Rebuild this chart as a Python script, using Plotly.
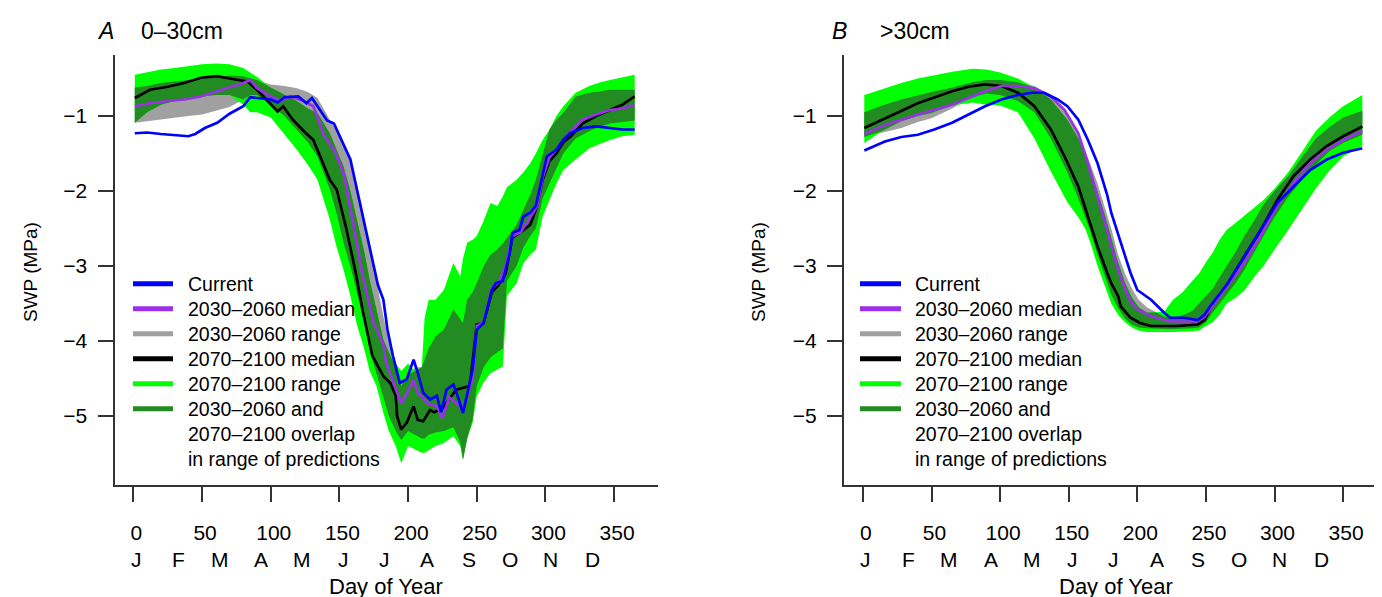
import numpy as np
import plotly.graph_objects as go

# ---------------- data ----------------
months = ["J", "F", "M", "A", "M", "J", "J", "A", "S", "O", "N", "D"]
month_days = [2, 33, 63, 93, 123, 153, 183, 214, 244, 274, 304, 334]
x_ticks = [0, 50, 100, 150, 200, 250, 300, 350]
y_ticks = [-1, -2, -3, -4, -5]
y_ticktext = ["\u22121", "\u22122", "\u22123", "\u22124", "\u22125"]

legend_labels = ["Current", "2030\u20132060 median", "2030\u20132060 range",
                 "2070\u20132100 median", "2070\u20132100 range", "2030\u20132060 and",
                 "2070\u20132100 overlap", "in range of predictions"]

# Panel A (0-30 cm)
A_blue_day = [1,10,20,30,40,45,52,61,70,80,85,90,100,105,110,120,126,130,134,141,146,153,158,163,168,173,178,182,185,189,
              194,199,204,207,211,216,221,224,228,233,236,240,244,247,250,255,261,264,269,274,276,281,284,289,293,298,301,308,313,318,
              327,337,347,356,365]
A_blue = [-1.23,-1.22,-1.24,-1.26,-1.27,-1.24,-1.16,-1.09,-0.97,-0.87,-0.75,-0.76,-0.78,-0.82,-0.75,-0.74,-0.83,-0.76,-0.87,-1.06,
          -1.10,-1.38,-1.58,-2.0,-2.42,-2.85,-3.25,-3.45,-3.85,-4.2,-4.56,-4.51,-4.25,-4.42,-4.69,-4.78,-4.73,-4.95,-4.65,-4.58,
          -4.73,-4.96,-4.61,-4.38,-3.85,-3.76,-3.32,-3.23,-3.2,-2.83,-2.56,-2.52,-2.34,-2.29,-2.20,-1.80,-1.54,-1.45,-1.32,-1.23,
          -1.16,-1.14,-1.16,-1.18,-1.18]
A_purple_day = [1,12,25,37,49,61,73,80,85,90,100,107,114,124,131,139,146,153,160,167,175,182,184,191,195,199,204,207,214,221,
                225,230,240,247,250,255,261,266,271,276,282,289,294,298,303,308,313,318,327,337,347,356,365]
A_purple = [-0.87,-0.83,-0.80,-0.78,-0.74,-0.67,-0.60,-0.56,-0.52,-0.63,-0.74,-0.80,-0.74,-0.80,-0.87,-1.27,-1.45,-1.76,-2.43,-3.14,
            -3.76,-4.05,-4.29,-4.65,-4.83,-4.7,-4.52,-4.69,-4.83,-4.87,-5.03,-4.75,-4.9,-4.5,-3.8,-3.75,-3.3,-3.22,-3.0,-2.6,
            -2.55,-2.35,-2.2,-1.82,-1.55,-1.45,-1.32,-1.22,-1.05,-0.98,-0.92,-0.9,-0.85]
A_black_day = [1,12,25,37,49,61,73,83,90,97,105,109,116,124,131,136,143,148,155,162,167,174,182,187,191,192,195,199,204,207,
               211,216,219,225,235,245,250,255,261,266,271,276,282,289,294,298,303,308,313,318,327,337,347,356,365]
A_black = [-0.76,-0.65,-0.61,-0.56,-0.49,-0.47,-0.51,-0.54,-0.65,-0.78,-0.94,-0.87,-1.05,-1.20,-1.32,-1.54,-1.85,-1.98,-2.5,-3.1,
           -3.6,-4.2,-4.47,-4.56,-4.73,-5.0,-5.18,-5.09,-4.87,-5.05,-5.07,-4.92,-4.95,-4.9,-4.65,-4.6,-3.78,-3.76,-3.35,-3.25,
           -3.1,-2.62,-2.55,-2.45,-2.2,-1.85,-1.6,-1.5,-1.35,-1.28,-1.1,-1.0,-0.92,-0.85,-0.74]
A_band_day = [1,10,20,30,40,50,60,70,80,85,90,100,110,119,127,134,143,148,153,158,163,168,172,177,182,186,191,195,200,205,
              210,212,215,220,226,233,238,240,243,247,250,255,260,265,269,272,279,284,289,293,298,303,308,313,322,332,340,347,356,365]
A_green_hi = [-0.45,-0.42,-0.38,-0.36,-0.33,-0.31,-0.30,-0.31,-0.36,-0.42,-0.48,-0.62,-0.72,-0.80,-0.90,-0.96,-1.23,-1.45,-1.67,-2.0,
              -2.38,-2.8,-3.18,-3.6,-3.98,-4.15,-4.3,-4.4,-4.3,-4.4,-4.35,-3.7,-3.45,-3.45,-3.32,-2.96,-3.14,-2.9,-2.69,-2.65,
              -2.6,-2.4,-2.16,-2.2,-2.07,-1.95,-1.85,-1.75,-1.63,-1.5,-1.32,-1.18,-1.0,-0.87,-0.69,-0.6,-0.55,-0.52,-0.48,-0.45]
A_green_lo = [-1.09,-0.95,-0.85,-0.80,-0.77,-0.74,-0.72,-0.72,-0.85,-0.95,-0.95,-1.02,-1.25,-1.45,-1.65,-1.85,-2.38,-2.75,-3.05,-3.4,
              -3.8,-4.1,-4.4,-4.6,-4.96,-5.2,-5.4,-5.63,-5.4,-5.45,-5.49,-5.49,-5.45,-5.4,-5.36,-5.27,-5.4,-5.58,-5.3,-5.09,
              -4.74,-4.55,-4.43,-4.38,-4.34,-3.4,-3.23,-2.96,-2.85,-2.78,-2.34,-2.12,-1.9,-1.72,-1.58,-1.43,-1.37,-1.32,-1.27,-1.25]
A_gray_hi = [-0.62,-0.60,-0.56,-0.54,-0.52,-0.50,-0.47,-0.46,-0.47,-0.50,-0.52,-0.58,-0.60,-0.63,-0.68,-0.76,-1.05,-1.2,-1.40,-1.62,
             -1.94,-2.35,-2.78,-3.2,-3.67,-4.0,-4.35,-4.6,-4.45,-4.35,-4.35,-4.25,-4.1,-3.94,-3.85,-3.58,-3.7,-3.76,-3.45,-3.35,
             -3.23,-3.0,-2.85,-2.78,-2.7,-2.62,-2.45,-2.25,-2.05,-1.85,-1.5,-1.18,-1.05,-0.96,-0.74,-0.69,-0.67,-0.65,-0.65,-0.65]
A_gray_lo = [-1.09,-1.07,-1.04,-1.02,-1.0,-0.98,-0.93,-0.88,-0.78,-0.72,-0.72,-0.85,-1.0,-1.18,-1.35,-1.54,-1.98,-2.3,-2.69,-3.0,
             -3.36,-3.75,-4.12,-4.45,-4.74,-5.0,-5.2,-5.32,-5.2,-5.25,-5.3,-5.3,-5.25,-5.22,-5.2,-5.15,-5.35,-5.58,-5.3,-5.05,
             -4.6,-4.35,-4.22,-4.15,-4.1,-3.2,-3.0,-2.75,-2.6,-2.5,-2.1,-1.9,-1.7,-1.5,-1.3,-1.2,-1.14,-1.1,-1.08,-1.06]

# Panel B (>30 cm)
B_blue_day = [1,16,28,40,52,65,77,89,101,113,123,132,142,149,157,164,171,178,181,188,195,200,210,220,224,234,244,249,253,266,
              278,290,302,314,326,338,350,364]
B_blue = [-1.46,-1.34,-1.28,-1.25,-1.18,-1.09,-0.98,-0.87,-0.78,-0.72,-0.69,-0.69,-0.78,-0.87,-1.05,-1.32,-1.63,-2.05,-2.29,-2.69,
          -3.09,-3.32,-3.45,-3.63,-3.69,-3.69,-3.72,-3.65,-3.54,-3.23,-2.87,-2.52,-2.16,-1.94,-1.72,-1.58,-1.49,-1.43]
B_purple_day = [1,16,40,65,89,101,113,125,137,147,157,164,171,178,182,186,191,195,200,210,224,243,249,253,266,278,290,302,314,326,
                338,350,364]
B_purple = [-1.24,-1.12,-0.98,-0.85,-0.67,-0.60,-0.60,-0.63,-0.74,-0.92,-1.23,-1.63,-2.07,-2.52,-2.8,-3.05,-3.3,-3.48,-3.58,-3.67,
            -3.74,-3.74,-3.68,-3.58,-3.27,-2.96,-2.6,-2.2,-1.89,-1.63,-1.45,-1.32,-1.2]
B_black_day = [1,16,40,65,77,89,101,113,125,137,147,157,164,171,178,181,186,188,195,202,210,229,244,249,253,266,278,290,302,314,
               326,338,350,364]
B_black = [-1.16,-1.03,-0.83,-0.67,-0.61,-0.58,-0.60,-0.69,-0.87,-1.18,-1.54,-1.94,-2.34,-2.74,-3.09,-3.23,-3.4,-3.54,-3.69,-3.76,
           -3.8,-3.8,-3.78,-3.72,-3.58,-3.23,-2.87,-2.52,-2.12,-1.8,-1.58,-1.4,-1.27,-1.14]
B_band_day = [1,14,28,40,50,65,80,90,100,113,125,137,149,157,162,166,171,176,181,186,191,196,201,207,214,220,226,233,240,245,
              250,255,260,265,272,278,285,292,300,310,320,330,340,350,364]
B_green_hi = [-0.72,-0.64,-0.56,-0.50,-0.46,-0.41,-0.37,-0.38,-0.42,-0.50,-0.62,-0.78,-1.05,-1.3,-1.5,-1.72,-2.0,-2.3,-2.62,-2.95,
              -3.22,-3.42,-3.55,-3.62,-3.62,-3.6,-3.45,-3.35,-3.2,-3.1,-2.95,-2.82,-2.65,-2.52,-2.42,-2.33,-2.22,-2.12,-1.97,-1.75,
              -1.48,-1.2,-1.02,-0.87,-0.72]
B_green_lo = [-1.36,-1.2,-1.07,-1.0,-0.96,-0.86,-0.82,-0.85,-0.86,-0.95,-1.3,-1.74,-2.15,-2.35,-2.5,-2.7,-3.0,-3.25,-3.5,-3.65,
              -3.75,-3.82,-3.86,-3.88,-3.88,-3.88,-3.88,-3.88,-3.87,-3.86,-3.8,-3.75,-3.65,-3.5,-3.42,-3.33,-3.15,-3.0,-2.78,-2.52,
              -2.25,-1.97,-1.73,-1.54,-1.4]
B_gray_hi = [-0.95,-0.86,-0.78,-0.72,-0.68,-0.62,-0.55,-0.52,-0.52,-0.55,-0.60,-0.72,-0.96,-1.22,-1.45,-1.65,-1.9,-2.2,-2.5,-2.85,
             -3.1,-3.3,-3.45,-3.55,-3.62,-3.68,-3.68,-3.66,-3.6,-3.5,-3.4,-3.3,-3.15,-3.0,-2.8,-2.6,-2.4,-2.18,-2.0,-1.8,
             -1.55,-1.3,-1.15,-1.02,-0.93]
B_gray_lo = [-1.28,-1.22,-1.16,-1.08,-1.03,-0.90,-0.75,-0.70,-0.72,-0.80,-0.95,-1.3,-1.75,-2.1,-2.35,-2.55,-2.85,-3.12,-3.38,-3.56,
             -3.7,-3.78,-3.82,-3.83,-3.84,-3.84,-3.84,-3.84,-3.83,-3.82,-3.75,-3.62,-3.5,-3.38,-3.22,-3.05,-2.83,-2.6,-2.35,-2.08,
             -1.85,-1.65,-1.47,-1.36,-1.25]

# ---------------- styling ----------------
W, H = 1382, 597
FONT = "Liberation Sans, Arial, sans-serif"
C_GREEN = "#00FF00"
C_DARK = "#228B22"
C_GRAY = "#A0A0A0"
C_BLUE = "#0000FF"
C_PURPLE = "#9B30E6"
C_BLACK = "#000000"
AXC = "#333333"


def px(x):
    return x / W


def py(y):
    return 1 - y / H


fig = go.Figure()


def band(days, hi, lo, color, xa, ya):
    d = list(days)
    fig.add_trace(go.Scatter(x=d + d[::-1], y=list(hi) + list(lo)[::-1], fill="toself",
                             fillcolor=color, line=dict(width=0), mode="lines",
                             hoverinfo="skip", showlegend=False, xaxis=xa, yaxis=ya))


def panel(days, gr_hi, gr_lo, ge_hi, ge_lo, lines, xa, ya):
    band(days, gr_hi, gr_lo, C_GRAY, xa, ya)
    band(days, ge_hi, ge_lo, C_GREEN, xa, ya)
    gh, gl, eh, el = map(np.array, (gr_hi, gr_lo, ge_hi, ge_lo))
    ov_lo = np.maximum(gl, el)
    ov_hi = np.maximum(np.minimum(gh, eh), ov_lo)
    band(days, ov_hi, ov_lo, C_DARK, xa, ya)
    for d, v, c in lines:
        fig.add_trace(go.Scatter(x=d, y=v, mode="lines", line=dict(color=c, width=2.7),
                                 hoverinfo="skip", showlegend=False, xaxis=xa, yaxis=ya))


panel(A_band_day, A_gray_hi, A_gray_lo, A_green_hi, A_green_lo,
      [(A_black_day, A_black, C_BLACK), (A_purple_day, A_purple, C_PURPLE), (A_blue_day, A_blue, C_BLUE)],
      "x", "y")
panel(B_band_day, B_gray_hi, B_gray_lo, B_green_hi, B_green_lo,
      [(B_black_day, B_black, C_BLACK), (B_purple_day, B_purple, C_PURPLE), (B_blue_day, B_blue, C_BLUE)],
      "x2", "y2")

XR = [-13.8, 382]
YR = [-5.913, -0.183]
ydom = [py(476.5), py(46.7)]
TICK_SIZE = 21

xcommon = dict(range=XR, showline=True, linecolor=AXC, linewidth=2, ticks="outside", ticklen=15,
               tickwidth=2, tickcolor=AXC, tickvals=x_ticks, ticktext=[str(t) for t in x_ticks],
               tickfont=dict(family=FONT, size=TICK_SIZE, color="black"), showgrid=False, zeroline=False,
               ticklabelstandoff=13, ticklabelshift=3, automargin=False, fixedrange=True)
ycommon = dict(range=YR, domain=ydom, showline=True, linecolor=AXC, linewidth=2, ticks="outside",
               ticklen=15, tickwidth=2, tickcolor=AXC, tickvals=y_ticks, ticktext=y_ticktext,
               tickfont=dict(family=FONT, size=TICK_SIZE, color="black"), showgrid=False, zeroline=False,
               ticklabelstandoff=6, automargin=False, fixedrange=True)

fig.update_layout(
    width=W, height=H, margin=dict(l=0, r=0, t=0, b=0), paper_bgcolor="white", plot_bgcolor="white",
    showlegend=False,
    xaxis=dict(domain=[px(106.5), px(650)], anchor="y", **xcommon),
    yaxis=dict(anchor="x", **ycommon),
    xaxis2=dict(domain=[px(836), px(1379)], anchor="y2", **xcommon),
    yaxis2=dict(anchor="x2", **ycommon),
)

annotations = []
shapes = []
legend_colors = [C_BLUE, C_PURPLE, C_GRAY, C_BLACK, C_GREEN, C_DARK]
panels = [
    dict(xref="x", ax0=106.5, ax1=650, letter="A", title="0\u201330cm", lx=98, tx=131,
         swp_x=22, leg_line=(125, 165), leg_text=178),
    dict(xref="x2", ax0=836, ax1=1379, letter="B", title=">30cm", lx=831, tx=870,
         swp_x=750, leg_line=(852, 893), leg_text=905),
]
for p in panels:
    # month letters
    for m, d in zip(months, month_days):
        annotations.append(dict(x=d, xref=p["xref"], y=py(551), yref="paper", text=m, showarrow=False,
                                xanchor="center", yanchor="middle",
                                font=dict(family=FONT, size=TICK_SIZE, color="black")))
    # x title
    annotations.append(dict(x=px((p["ax0"] + p["ax1"]) / 2), xref="paper", y=py(578), yref="paper",
                            text="Day of Year", showarrow=False, xanchor="center", yanchor="middle",
                            font=dict(family=FONT, size=22, color="black")))
    # y title
    annotations.append(dict(x=px(p["swp_x"]), xref="paper", y=py(264), yref="paper", text="SWP (MPa)",
                            showarrow=False, textangle=-90, xanchor="center", yanchor="middle",
                            font=dict(family=FONT, size=19, color="black")))
    # panel title
    annotations.append(dict(x=px(p["lx"]), xref="paper", y=py(23), yref="paper",
                            text="<i>" + p["letter"] + "</i>", showarrow=False, xanchor="center",
                            yanchor="middle", font=dict(family=FONT, size=23, color="black")))
    annotations.append(dict(x=px(p["tx"]), xref="paper", y=py(23), yref="paper", text=p["title"],
                            showarrow=False, xanchor="left", yanchor="middle",
                            font=dict(family=FONT, size=23, color="black")))
    # legend
    for k, lab in enumerate(legend_labels):
        yk = 275.7 + 25 * k
        if k < len(legend_colors):
            shapes.append(dict(type="line", xref="paper", yref="paper", x0=px(p["leg_line"][0]),
                               x1=px(p["leg_line"][1]), y0=py(yk), y1=py(yk),
                               line=dict(color=legend_colors[k], width=5)))
        annotations.append(dict(x=px(p["leg_text"]), xref="paper", y=py(yk), yref="paper", text=lab,
                                showarrow=False, xanchor="left", yanchor="middle",
                                font=dict(family=FONT, size=19.5, color="black")))

fig.update_layout(annotations=annotations, shapes=shapes)
fig.write_html("out.html")
